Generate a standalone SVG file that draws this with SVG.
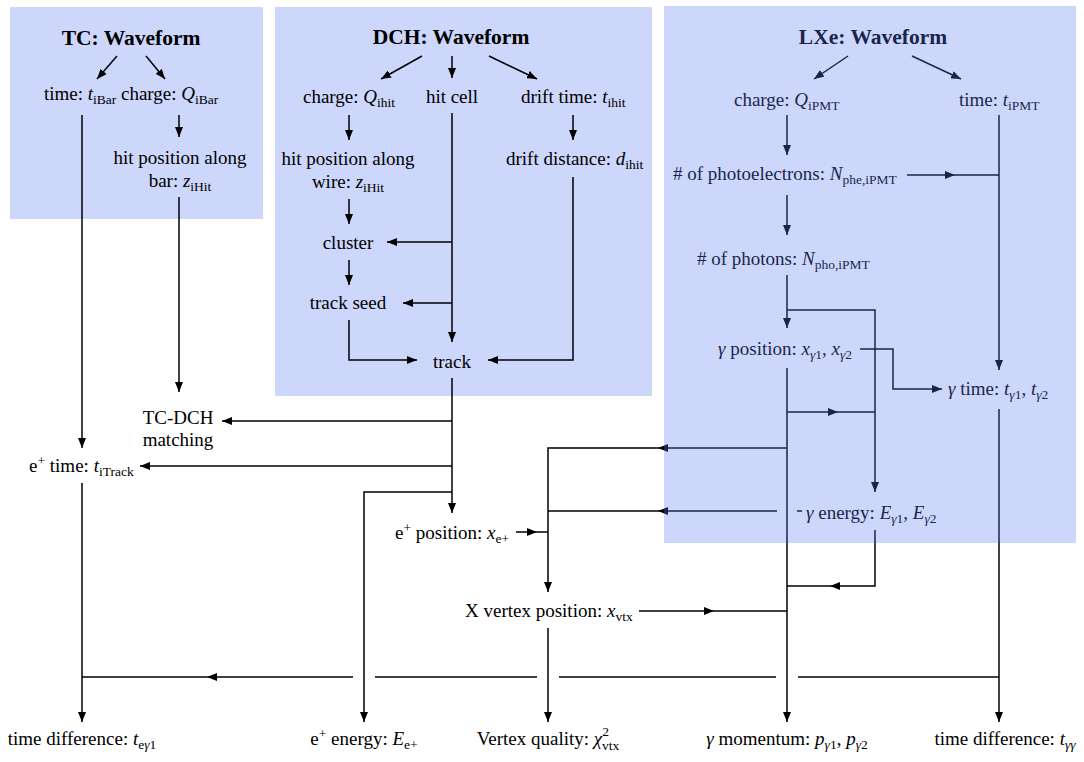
<svg xmlns="http://www.w3.org/2000/svg" width="1084" height="762" viewBox="0 0 1084 762" font-family="Liberation Serif, Times New Roman, serif">
<style>
text{font-family:'Liberation Serif','Times New Roman',Times,serif;font-size:19px;fill:#000}
.t{font-weight:bold;font-size:21.5px}
.m{text-anchor:middle}
.v{font-style:italic}
.s{font-size:13.5px}
.box{fill:#cdd6fb}
.lxe{fill:rgb(88,118,242);opacity:.3}
#connectors path{fill:none;stroke:#000;stroke-width:1.5}
#connectors path.a{marker-end:url(#ah)}
</style>
<defs>
<marker id="ah" viewBox="0 0 10 8" refX="10" refY="4" markerWidth="10" markerHeight="8" markerUnits="userSpaceOnUse" orient="auto"><path d="M0,0 L10,4 L0,8 z" fill="#000"/></marker>
</defs>
<rect width="1084" height="762" fill="#fff"/>
<g id="group-tc"><rect class="box" x="10" y="7" width="253" height="212"/></g>
<g id="group-dch"><rect class="box" x="275" y="7" width="377" height="389"/></g>

<g id="connectors">
<path class="a" d="M117,56 L97,79"/>
<path class="a" d="M146,56 L165,79"/>
<path class="a" d="M179,115 V137"/>
<path class="a" d="M179,197 V392"/>
<path class="a" d="M82,115 V448"/>
<path class="a" d="M422,56 L381,79"/>
<path class="a" d="M452,56 V78"/>
<path class="a" d="M489,56 L537,79"/>
<path class="a" d="M349,115 V140"/>
<path class="a" d="M573,115 V140"/>
<path class="a" d="M452,113 V342"/>
<path class="a" d="M452,242 H387"/>
<path class="a" d="M452,303 H403"/>
<path class="a" d="M349,199 V224"/>
<path class="a" d="M349,260 V285"/>
<path class="a" d="M349,320 V360 H417"/>
<path class="a" d="M573,177 V360 H488"/>
<path class="a" d="M452,378 V513"/>
<path class="a" d="M452,421 H222"/>
<path class="a" d="M452,466 H140"/>
<path class="a" d="M452,492 H364 V722"/>
<path class="a" d="M848,56 L814,79"/>
<path class="a" d="M912,56 L961,79"/>
<path class="a" d="M787,115 V155"/>
<path class="a" d="M999,115 V370"/>
<path class="a" d="M907,175 H955"/>
<path d="M955,175 H999"/>
<path class="a" d="M787,195 V235"/>
<path class="a" d="M787,275 V328"/>
<path class="a" d="M787,310 H875 V492"/>
<path class="a" d="M860,349 H893 V389 H942"/>
<path class="a" d="M787,368 V722"/>
<path class="a" d="M787,412 H838"/>
<path d="M838,412 H875"/>
<path class="a" d="M787,448 H658"/>
<path class="a" d="M658,448 H548 V592"/>
<path d="M802,511 H797"/>
<path class="a" d="M777,511 H658"/>
<path d="M658,511 H548"/>
<path class="a" d="M875,530 V586 H830"/>
<path d="M830,586 H787"/>
<path class="a" d="M516,532 H537"/>
<path d="M537,532 H548"/>
<path class="a" d="M639,611 H714"/>
<path d="M714,611 H787"/>
<path class="a" d="M548,628 V722"/>
<path class="a" d="M999,409 V722"/>
<path class="a" d="M82,483 V722"/>
<path d="M999,677 H798"/>
<path d="M776,677 H559"/>
<path d="M537,677 H375"/>
<path class="a" d="M353,677 H207"/>
<path d="M207,677 H82"/>
</g>

<g id="tc-waveform"><text class="t m" x="131" y="45">TC: Waveform</text></g>
<g id="tc-time"><text x="44" y="100">time: <tspan class="v">t</tspan><tspan class="s" dy="4">iBar</tspan></text></g>
<g id="tc-charge"><text x="121" y="100">charge: <tspan class="v">Q</tspan><tspan class="s" dy="4">iBar</tspan></text></g>
<g id="tc-hitpos"><text class="m" x="180" y="164">hit position along</text><text class="m" x="180" y="187">bar: <tspan class="v">z</tspan><tspan class="s" dy="4">iHit</tspan></text></g>

<g id="dch-waveform"><text class="t m" x="451" y="44">DCH: Waveform</text></g>
<g id="dch-charge"><text x="303" y="103">charge: <tspan class="v">Q</tspan><tspan class="s" dy="4">ihit</tspan></text></g>
<g id="dch-hitcell"><text class="m" x="452" y="103">hit cell</text></g>
<g id="dch-drifttime"><text x="521" y="103">drift time: <tspan class="v">t</tspan><tspan class="s" dy="4">ihit</tspan></text></g>
<g id="dch-hitpos"><text class="m" x="348" y="165">hit position along</text><text class="m" x="348" y="188">wire: <tspan class="v">z</tspan><tspan class="s" dy="4">iHit</tspan></text></g>
<g id="dch-driftdist"><text x="506" y="165">drift distance: <tspan class="v">d</tspan><tspan class="s" dy="4">ihit</tspan></text></g>
<g id="dch-cluster"><text class="m" x="348" y="249">cluster</text></g>
<g id="dch-trackseed"><text class="m" x="348" y="309">track seed</text></g>
<g id="dch-track"><text class="m" x="452" y="368">track</text></g>

<g id="lxe-waveform"><text class="t m" x="873" y="44">LXe: Waveform</text></g>
<g id="lxe-charge"><text x="734" y="106">charge: <tspan class="v">Q</tspan><tspan class="s" dy="4">iPMT</tspan></text></g>
<g id="lxe-time"><text x="959" y="106">time: <tspan class="v">t</tspan><tspan class="s" dy="4">iPMT</tspan></text></g>
<g id="lxe-phe"><text x="673" y="180"># of photoelectrons: <tspan class="v">N</tspan><tspan class="s" dy="4">phe,iPMT</tspan></text></g>
<g id="lxe-pho"><text x="697" y="265"># of photons: <tspan class="v">N</tspan><tspan class="s" dy="4">pho,iPMT</tspan></text></g>
<g id="lxe-gpos"><text x="718" y="355"><tspan class="v">γ</tspan> position: <tspan class="v">x</tspan><tspan class="s" dy="4"><tspan class="v">γ</tspan>1</tspan><tspan dy="-4">, </tspan><tspan class="v">x</tspan><tspan class="s" dy="4"><tspan class="v">γ</tspan>2</tspan></text></g>
<g id="lxe-gtime"><text x="948" y="395"><tspan class="v">γ</tspan> time: <tspan class="v">t</tspan><tspan class="s" dy="4"><tspan class="v">γ</tspan>1</tspan><tspan dy="-4">, </tspan><tspan class="v">t</tspan><tspan class="s" dy="4"><tspan class="v">γ</tspan>2</tspan></text></g>
<g id="lxe-genergy"><text x="806" y="519"><tspan class="v">γ</tspan> energy: <tspan class="v">E</tspan><tspan class="s" dy="4"><tspan class="v">γ</tspan>1</tspan><tspan dy="-4">, </tspan><tspan class="v">E</tspan><tspan class="s" dy="4"><tspan class="v">γ</tspan>2</tspan></text></g>

<g id="tcdch-matching"><text class="m" x="178" y="424">TC-DCH</text><text class="m" x="178" y="446">matching</text></g>
<g id="e-time"><text x="29" y="472">e<tspan class="s" dy="-7">+</tspan><tspan dy="7"> time: </tspan><tspan class="v">t</tspan><tspan class="s" dy="4">iTrack</tspan></text></g>
<g id="e-position"><text x="395" y="539">e<tspan class="s" dy="-7">+</tspan><tspan dy="7"> position: </tspan><tspan class="v">x</tspan><tspan class="s" dy="4">e+</tspan></text></g>
<g id="x-vertex"><text x="465" y="617">X vertex position: <tspan class="v">x</tspan><tspan class="s" dy="4">vtx</tspan></text></g>

<g id="td-eg"><text class="m" x="82" y="745">time difference: <tspan class="v">t</tspan><tspan class="s" dy="4">e<tspan class="v">γ</tspan>1</tspan></text></g>
<g id="e-energy"><text class="m" x="364" y="745">e<tspan class="s" dy="-7">+</tspan><tspan dy="7"> energy: </tspan><tspan class="v">E</tspan><tspan class="s" dy="4">e+</tspan></text></g>
<g id="vtx-quality"><text class="m" x="548" y="745">Vertex quality: <tspan class="v">χ</tspan><tspan class="s" dy="-9">2</tspan><tspan class="s" dx="-6.8" dy="14">vtx</tspan></text></g>
<g id="g-momentum"><text class="m" x="787" y="745"><tspan class="v">γ</tspan> momentum: <tspan class="v">p</tspan><tspan class="s" dy="4"><tspan class="v">γ</tspan>1</tspan><tspan dy="-4">, </tspan><tspan class="v">p</tspan><tspan class="s" dy="4"><tspan class="v">γ</tspan>2</tspan></text></g>
<g id="td-gg"><text class="m" x="1005" y="745">time difference: <tspan class="v">t</tspan><tspan class="s v" dy="4">γγ</tspan></text></g>

<g id="group-lxe"><rect class="lxe" x="664" y="6" width="412" height="537"/></g>
</svg>
